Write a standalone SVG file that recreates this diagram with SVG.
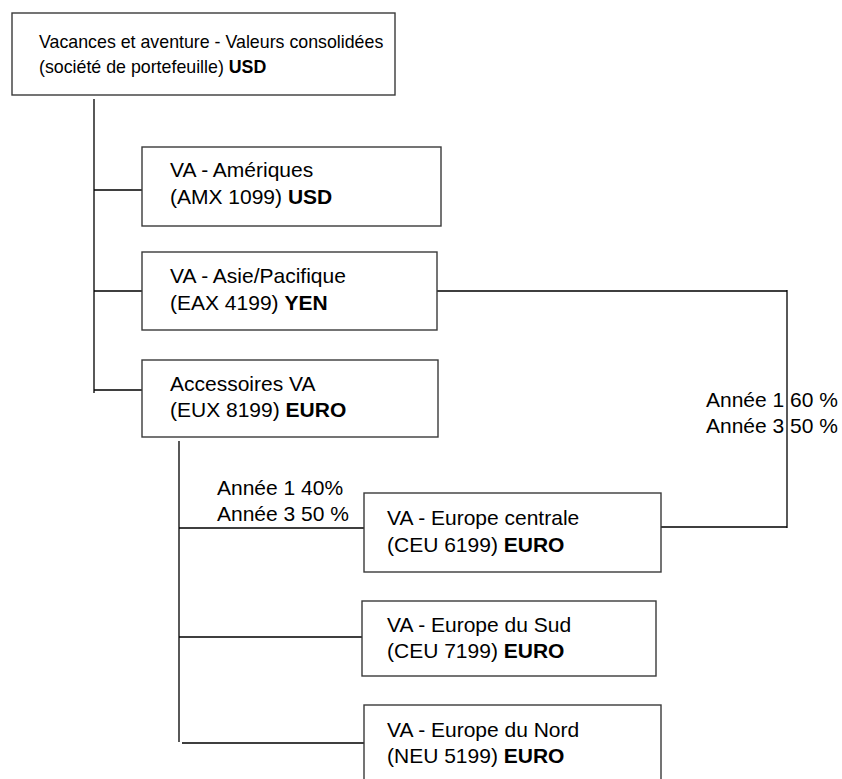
<svg xmlns="http://www.w3.org/2000/svg" width="842" height="779" viewBox="0 0 842 779">
<style>
.box{fill:#fff;stroke:#3a3a3a;stroke-width:1.4}
.ln{stroke:#000;stroke-width:1.3;fill:none}
text{font-family:"Liberation Sans",Arial,sans-serif;font-size:21px;fill:#000}
.t{font-size:17.8px}
.b{font-weight:bold}
</style>
<rect width="842" height="779" fill="#fff"/>
<g id="connectors">
<path class="ln" d="M94 99V393M94 190H142M94 291H142M94 390H142"/>
<path class="ln" d="M437 291H787M787 290V528M661 527H787"/>
<path class="ln" d="M179 441V742M179 528H364M179 637H362M182 743H367"/>
</g>
<g id="labels">
<text x="706" y="407">Année 1 60 %</text>
<text x="706" y="433">Année 3 50 %</text>
<text x="217" y="495">Année 1 40%</text>
<text x="217" y="521">Année 3 50 %</text>
</g>
<g id="n-root">
<rect class="box" x="12" y="13" width="383" height="82"/>
<text class="t" x="39" y="48">Vacances et aventure - Valeurs consolidées</text>
<text class="t" x="39" y="73">(société de portefeuille) <tspan class="b">USD</tspan></text>
</g>
<g id="n-amx">
<rect class="box" x="142" y="147" width="299" height="79"/>
<text x="170" y="177">VA - Amériques</text>
<text x="170" y="204">(AMX 1099) <tspan class="b">USD</tspan></text>
</g>
<g id="n-eax">
<rect class="box" x="142" y="252" width="295" height="78"/>
<text x="170" y="283">VA - Asie/Pacifique</text>
<text x="170" y="310">(EAX 4199) <tspan class="b">YEN</tspan></text>
</g>
<g id="n-eux">
<rect class="box" x="142" y="360" width="296" height="77"/>
<text x="170" y="391">Accessoires VA</text>
<text x="170" y="417">(EUX 8199) <tspan class="b">EURO</tspan></text>
</g>
<g id="n-ceu6">
<rect class="box" x="364" y="493" width="297" height="79"/>
<text x="387" y="525">VA - Europe centrale</text>
<text x="387" y="552">(CEU 6199) <tspan class="b">EURO</tspan></text>
</g>
<g id="n-ceu7">
<rect class="box" x="362" y="601" width="294" height="75"/>
<text x="387" y="632">VA - Europe du Sud</text>
<text x="387" y="658">(CEU 7199) <tspan class="b">EURO</tspan></text>
</g>
<g id="n-neu">
<rect class="box" x="364" y="705" width="297" height="80"/>
<text x="387" y="737">VA - Europe du Nord</text>
<text x="387" y="763">(NEU 5199) <tspan class="b">EURO</tspan></text>
</g>
</svg>
